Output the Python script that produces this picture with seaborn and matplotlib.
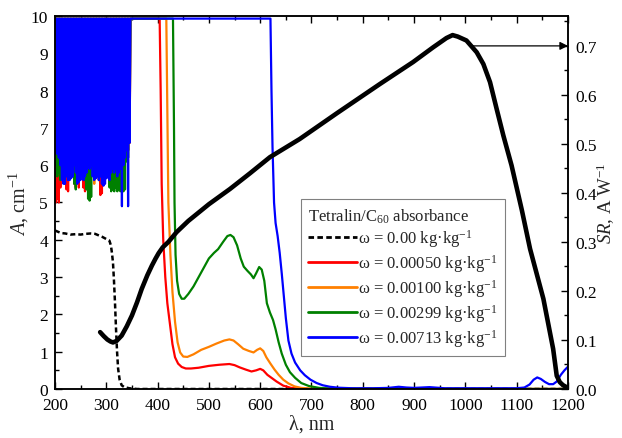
import numpy as np
import matplotlib
matplotlib.use("Agg")
import matplotlib.pyplot as plt
from matplotlib.ticker import MultipleLocator, FormatStrFormatter
import seaborn as sns

# ---------------------------------------------------------------------------
# Absorbance of Tetralin/C60 solutions (left axis, cm^-1)
# ---------------------------------------------------------------------------
A_SAT = 9.93  # detector saturation level of the spectrophotometer

# below ~350 nm the C60 solutions saturate: readings jump between the
# saturation level and the minima listed here (one minimum every 3 nm)
noise_nm = np.arange(201.5, 346.0, 3.0)

red_noise = [5.0, 5.1, 5.0, 5.4, 6.0, 6.1, 5.9, 5.35, 5.3, 6.0, 6.2, 6.0, 5.5, 5.4, 6.0,
             5.4, 5.9, 6.1, 5.4, 5.3, 5.4, 6.0, 6.2, 6.1, 6.0, 6.1, 6.3, 6.0, 5.6, 5.2,
             5.25, 6.0, 6.2, 6.1, 6.0, 6.2, 6.3, 6.1, 6.2, 6.3, 6.2, 6.1, 6.3, 6.2, 6.4,
             6.3, 6.5, 6.4, 6.6]
orange_noise = [6.2, 6.0, 6.3, 6.1, 6.0, 5.9, 6.2, 6.0, 6.1, 6.2, 6.0, 6.3, 5.9, 5.7, 6.1,
                6.0, 6.2, 6.3, 6.0, 6.1, 6.2, 6.0, 6.3, 6.1, 6.0, 5.5, 6.2, 6.1, 6.0, 6.2,
                6.3, 6.1, 6.0, 6.2, 6.1, 6.3, 6.0, 6.2, 6.1, 6.0, 6.2, 6.3, 6.1, 6.2, 6.3,
                6.4, 6.5, 6.4, 6.6]
green_noise = [6.0, 5.7, 5.8, 5.6, 5.9, 6.0, 6.1, 6.0, 5.9, 6.1, 6.0, 5.9, 5.5, 5.35, 6.0,
               6.1, 5.7, 6.0, 5.8, 5.6, 5.35, 5.1, 5.05, 5.15, 6.0, 6.1, 5.9, 6.0, 6.1, 5.9,
               6.0, 6.1, 6.0, 5.9, 6.1, 5.4, 5.3, 5.35, 5.3, 5.4, 5.3, 5.35, 5.3, 6.0, 5.3,
               5.35, 6.1, 6.2, 6.9]
blue_noise = [6.4, 6.3, 6.2, 6.0, 5.6, 5.5, 5.5, 5.7, 5.6, 5.6, 5.65, 5.7, 6.0, 5.8, 5.5,
              5.55, 5.6, 5.8, 5.6, 5.7, 5.8, 6.0, 5.9, 6.0, 5.7, 5.6, 5.65, 5.7, 5.6, 5.7,
              5.5, 5.45, 5.5, 5.65, 5.7, 5.6, 5.8, 5.9, 5.8, 5.9, 5.7, 5.8, 5.9, 4.9, 6.0,
              6.2, 6.4, 4.9, 6.6]

# measured part of each spectrum, from the end of saturation onwards
red_nm = [404, 406, 408, 411, 415, 419, 424, 429, 434, 440, 447, 455, 465, 480, 500, 520,
          540, 550, 560, 572, 583, 592, 600, 606, 614, 622, 632, 645, 660, 680, 700, 1200]
red_A = [A_SAT, 8.0, 5.5, 4.0, 3.0, 2.3, 1.75, 1.2, 0.85, 0.68, 0.59, 0.55, 0.55, 0.57,
         0.62, 0.65, 0.67, 0.64, 0.58, 0.52, 0.47, 0.50, 0.54, 0.50, 0.38, 0.30, 0.20,
         0.09, 0.03, 0.01, 0.0, 0.0]

orange_nm = [417, 419, 421, 425, 429, 434, 439, 444, 450, 458, 470, 485, 500, 515, 530,
             540, 548, 557, 567, 578, 587, 594, 600, 606, 612, 620, 628, 636, 645, 655,
             667, 680, 700, 1200]
orange_A = [A_SAT, 7.5, 5.0, 3.6, 2.6, 1.8, 1.25, 0.98, 0.87, 0.86, 0.93, 1.05, 1.13,
            1.22, 1.30, 1.33, 1.30, 1.20, 1.08, 1.02, 0.98, 1.05, 1.09, 1.02, 0.85, 0.68,
            0.52, 0.38, 0.25, 0.15, 0.07, 0.03, 0.01, 0.0]

green_nm = [430, 432, 433, 435, 438, 442, 447, 452, 460, 470, 480, 490, 500, 510, 518,
            528, 536, 542, 548, 555, 562, 568, 575, 582, 587, 592, 598, 603, 608, 613,
            619, 625, 630, 636, 642, 650, 658, 668, 680, 695, 715, 740, 1200]
green_A = [A_SAT, 7.0, 5.0, 3.6, 2.9, 2.55, 2.42, 2.42, 2.55, 2.75, 3.0, 3.25, 3.5, 3.65,
           3.75, 3.95, 4.1, 4.13, 4.07, 3.85, 3.5, 3.28, 3.17, 3.07, 2.97, 3.1, 3.27, 3.2,
           2.9, 2.3, 2.05, 1.85, 1.6, 1.25, 0.95, 0.65, 0.45, 0.30, 0.16, 0.08, 0.03, 0.01,
           0.0]

blue_nm = [620, 622, 624, 627, 630, 634, 638, 642, 646, 650, 655, 661, 668, 678, 687, 698,
           710, 722, 736, 752, 780, 820, 850, 870, 885, 900, 930, 960, 1000, 1050, 1100,
           1115, 1125, 1133, 1140, 1147, 1155, 1163, 1171, 1178, 1186, 1193, 1200]
blue_A = [A_SAT, 8.0, 6.5, 5.0, 4.45, 4.1, 3.65, 3.1, 2.5, 1.9, 1.3, 0.95, 0.71, 0.5, 0.37,
          0.25, 0.16, 0.10, 0.06, 0.035, 0.02, 0.02, 0.03, 0.06, 0.04, 0.03, 0.05, 0.02,
          0.02, 0.02, 0.02, 0.04, 0.12, 0.25, 0.31, 0.27, 0.19, 0.13, 0.13, 0.20, 0.38,
          0.50, 0.60]

# pure tetralin (omega = 0)
solvent_nm = [200, 205, 212, 220, 230, 240, 250, 260, 270, 278, 285, 292, 300, 306, 309,
              311, 313, 315, 317, 319, 321, 323, 326, 330, 335, 345, 360, 1200]
solvent_A = [4.25, 4.22, 4.18, 4.17, 4.14, 4.15, 4.14, 4.16, 4.17, 4.16, 4.12, 4.08, 4.02,
             3.98, 3.85, 3.65, 3.4, 2.9, 2.3, 1.6, 1.0, 0.55, 0.25, 0.1, 0.05, 0.02, 0.0,
             0.0]

# ---------------------------------------------------------------------------
# Spectral response of the photodiode (right axis, A/W)
# ---------------------------------------------------------------------------
sr_nm = [288, 295, 302, 308, 313, 320, 330, 340, 350, 360, 369, 380, 389, 396, 402, 410,
         421, 437, 460, 500, 541, 580, 619, 677, 750, 833, 898, 937, 963, 975, 985, 1002,
         1022, 1035, 1048, 1061, 1074, 1090, 1110, 1126, 1152, 1171, 1178, 1184, 1190,
         1200]
sr_val = [0.116, 0.108, 0.101, 0.097, 0.095, 0.098, 0.109, 0.128, 0.150, 0.177, 0.204,
          0.232, 0.252, 0.266, 0.277, 0.289, 0.300, 0.320, 0.343, 0.377, 0.408, 0.440,
          0.473, 0.510, 0.563, 0.622, 0.667, 0.697, 0.716, 0.722, 0.719, 0.711, 0.687,
          0.663, 0.626, 0.571, 0.517, 0.456, 0.365, 0.286, 0.184, 0.082, 0.027, 0.014,
          0.008, 0.002]
SR_MARK = 0.70   # level pointed at by the arrow
SR_MARK_FROM = 1015

legend_labels = [
    "ω = 0.00 kg·kg$^{-1}$",
    "ω = 0.00050 kg·kg$^{-1}$",
    "ω = 0.00100 kg·kg$^{-1}$",
    "ω = 0.00299 kg·kg$^{-1}$",
    "ω = 0.00713 kg·kg$^{-1}$",
]
series_colors = ["black", "#ff0000", "#ff8000", "#008000", "#0000ff"]


def full_trace(noise_lows, tail_nm, tail_A):
    """Saturated noisy stretch followed by the measured tail."""
    nm, a = [200.0], [A_SAT]
    for x, lo in zip(noise_nm, noise_lows):
        nm += [x, x + 1.5]
        a += [lo, A_SAT]
    return np.array(nm + list(tail_nm)), np.array(a + list(tail_A))


sns.set_theme(style="ticks")
plt.rcParams.update({
    "font.family": ["Liberation Serif", "DejaVu Serif"],
    "mathtext.fontset": "custom",
    "mathtext.rm": "Liberation Serif",
    "mathtext.it": "Liberation Serif:italic",
    "mathtext.bf": "Liberation Serif:bold",
    "font.size": 12,
    "axes.linewidth": 1.1,
    "axes.edgecolor": "black",
    "xtick.color": "black",
    "ytick.color": "black",
})

fig, ax = plt.subplots(figsize=(6.22, 4.39), dpi=100)
fig.subplots_adjust(left=0.0884, right=0.9132, bottom=0.1116, top=0.9613)
ax2 = ax.twinx()

lw = 1.6
sns.lineplot(x=solvent_nm, y=solvent_A, ax=ax, color=series_colors[0], lw=1.8,
             linestyle=(0, (2.0, 1.2)), sort=False, estimator=None, label=legend_labels[0])
for lows, tnm, tA, col, lab in [
    (red_noise, red_nm, red_A, series_colors[1], legend_labels[1]),
    (orange_noise, orange_nm, orange_A, series_colors[2], legend_labels[2]),
    (green_noise, green_nm, green_A, series_colors[3], legend_labels[3]),
    (blue_noise, blue_nm, blue_A, series_colors[4], legend_labels[4]),
]:
    x, y = full_trace(lows, tnm, tA)
    sns.lineplot(x=x, y=y, ax=ax, color=col, lw=lw, sort=False, estimator=None, label=lab)

sns.lineplot(x=sr_nm, y=sr_val, ax=ax2, color="black", lw=3.3, sort=False, estimator=None)
ax2.annotate("", xy=(1200, SR_MARK), xytext=(SR_MARK_FROM, SR_MARK),
             arrowprops=dict(arrowstyle="-|>", color="black", lw=0.9,
                             mutation_scale=12, shrinkA=0, shrinkB=0))

ax.set_xlim(200, 1200)
ax.set_ylim(0, 10)
ax2.set_ylim(0, 0.761)

ax.xaxis.set_major_locator(MultipleLocator(100))
ax.xaxis.set_minor_locator(MultipleLocator(50))
ax.yaxis.set_major_locator(MultipleLocator(1))
ax.yaxis.set_minor_locator(MultipleLocator(0.5))
ax2.yaxis.set_major_locator(MultipleLocator(0.1))
ax2.yaxis.set_minor_locator(MultipleLocator(0.05))
ax2.yaxis.set_major_formatter(FormatStrFormatter("%.1f"))

TICK_FS = 12.5
ax.tick_params(which="both", direction="in", top=True, right=False, width=1.0,
               labelsize=TICK_FS)
ax.tick_params(axis="x", which="major", pad=6)
ax.tick_params(axis="y", which="major", pad=5)
ax.tick_params(which="major", length=5)
ax.tick_params(which="minor", length=3)
ax2.tick_params(which="both", direction="in", right=True, left=False, width=1.0,
                labelsize=TICK_FS, pad=5)
ax2.tick_params(which="major", length=5)
ax2.tick_params(which="minor", length=3)

ax.set_xlabel("λ, nm", fontsize=14.5, labelpad=1)
ax.set_ylabel("$A$, cm$^{-1}$", fontsize=14.5, labelpad=0)
ax2.set_ylabel("$SR$, A W$^{-1}$", fontsize=13.5, labelpad=-1)

handles, labels = ax.get_legend_handles_labels()
ax.get_legend().remove()
leg = ax2.legend(handles, labels, title="Tetralin/C$_{60}$ absorbance",
                 loc="upper left", bbox_to_anchor=(0.48, 0.509), borderaxespad=0,
                 fontsize=12, title_fontsize=12, frameon=True, fancybox=False,
                 edgecolor="#808080", framealpha=1, handlelength=2.9,
                 handletextpad=0.1, labelspacing=0.18, borderpad=0.42,
                 alignment="left")
leg.get_frame().set_linewidth(0.8)
for h in leg.get_lines():
    h.set_linewidth(2.0)

fig.savefig("out.png", dpi=100)
